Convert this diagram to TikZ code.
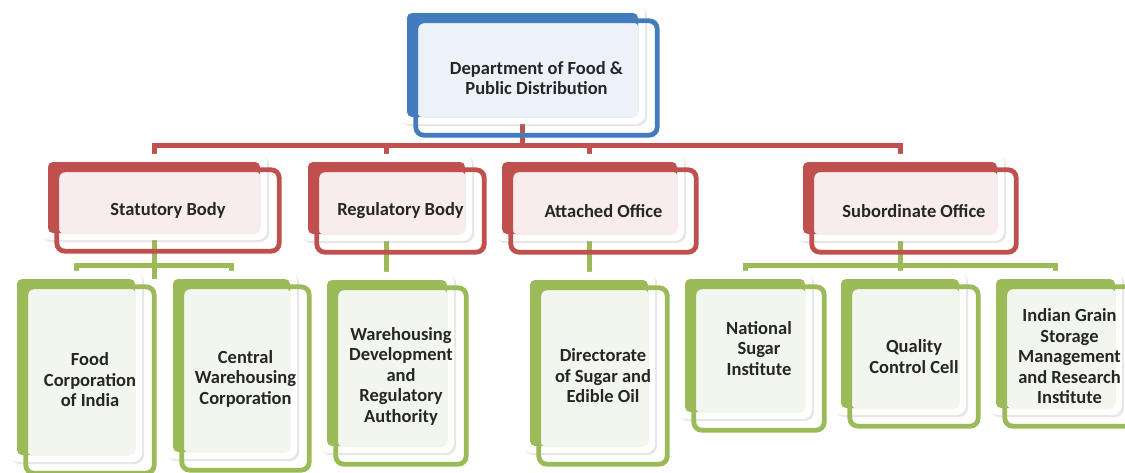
\documentclass[tikz,border=0pt]{standalone}
\usepackage{fontspec}
\setmainfont{Carlito}
\usetikzlibrary{calc,fit,shadows}

\definecolor{deptblue}{HTML}{437BBF}
\definecolor{deptbluelt}{HTML}{EDF2F8}
\definecolor{bodyred}{HTML}{C0504D}
\definecolor{bodyredlt}{HTML}{F8ECEC}
\definecolor{unitgreen}{HTML}{9BBB59}
\definecolor{unitgreenlt}{HTML}{F3F6EE}
\definecolor{inktext}{HTML}{262626}

\pgfdeclarelayer{links}
\pgfdeclarelayer{panels}
\pgfsetlayers{links,panels,main}

\begin{document}
\begin{tikzpicture}[
        x=1pt, y=-1pt,
        panel/.style={fill=white, rounded corners=10pt,
            drop shadow={shadow xshift=2pt, shadow yshift=-2pt, opacity=0.2}},
        backbox/.style={fill=#1, rounded corners=5pt, inner sep=0pt},
        frontbox/.style={draw=#1, line width=4.8pt, rounded corners=8pt},
        unittext/.style={font=\bfseries\fontsize{18.5}{20.5}\selectfont, text=inktext, align=center, inner sep=0pt},
        link/.style={draw=#1, line width=5pt}
    ]
            \useasboundingbox (0, 0) rectangle (1125, 472);

            % name, colour, light colour, corner, corner, text shift, text
            \newcommand*{\unitbox}[7]{
                \node[backbox=#2, fit={#4 #5}] (#1) {};
                \begin{pgfonlayer}{panels}
                    \path[panel] ($(#1.north west)+(-8, -8)$) rectangle ($(#1.south east)+(7, 7)$);
                \end{pgfonlayer}
                \fill[#3, rounded corners=4pt] ($(#1.north west)+(11, 10)$) rectangle (#1.south east);
                \draw[frontbox=#2] ($(#1.north west)+(9, 8)$) rectangle ($(#1.south east)+(19, 18)$);
                \node[unittext] (#1 text) at ($(#1.center)+(14, 13)+#6$) {#7};
            }

            \unitbox{dfpd}{deptblue}{deptbluelt}{(407, 13)}{(638, 117)}{(0, 0)}{Department of Food \&\\Public Distribution}

            \unitbox{stat}{bodyred}{bodyredlt}{(48, 162)}{(260, 233)}{(0, 0)}{Statutory Body}
            \unitbox{reg}{bodyred}{bodyredlt}{(308, 162)}{(465, 234)}{(0, 0)}{Regulatory Body}
            \unitbox{att}{bodyred}{bodyredlt}{(502, 162)}{(677, 234)}{(0, 0)}{Attached Office}
            \unitbox{sub}{bodyred}{bodyredlt}{(803, 162)}{(997, 234)}{(0, 0)}{Subordinate Office}

            \unitbox{fci}{unitgreen}{unitgreenlt}{(17, 279)}{(135, 455)}{(0, 0)}{Food\\Corporation\\of India}
            \unitbox{cwc}{unitgreen}{unitgreenlt}{(173, 279)}{(290, 452)}{(0, 0)}{Central\\Warehousing\\Corporation}
            \unitbox{wdra}{unitgreen}{unitgreenlt}{(327, 280)}{(447, 446)}{(0, 0)}{Warehousing\\Development\\and\\Regulatory\\Authority}
            \unitbox{dseo}{unitgreen}{unitgreenlt}{(530, 280)}{(648, 446)}{(0, 0)}{Directorate\\of Sugar and\\Edible Oil}
            \unitbox{nsi}{unitgreen}{unitgreenlt}{(685, 279)}{(805, 412)}{(0, -10)}{National\\Sugar\\Institute}
            \unitbox{qcc}{unitgreen}{unitgreenlt}{(841, 279)}{(959, 408)}{(0, 0)}{Quality\\Control Cell}
            \unitbox{igsm}{unitgreen}{unitgreenlt}{(996, 279)}{(1115, 408)}{(0, 0)}{Indian Grain\\Storage\\Management\\and Research\\Institute}

            \begin{pgfonlayer}{links}
                \coordinate (bus top) at (0, 145);
                \coordinate (bus low) at (0, 265);

                \draw[link=bodyred] (dfpd.south) -- (dfpd.south |- bus top);
                \draw[link=bodyred] (stat.north) -- (stat.north |- bus top) -- (sub.north |- bus top) -- (sub.north);
                \foreach \n in {reg, att} {
                    \draw[link=bodyred] (\n.north) -- (\n.north |- bus top);
                }

                \draw[link=unitgreen] (fci.north) -- (fci.north |- bus low) -- (cwc.north |- bus low) -- (cwc.north);
                \draw[link=unitgreen] (nsi.north) -- (nsi.north |- bus low) -- (igsm.north |- bus low) -- (igsm.north);
                \foreach \n/\m in {stat/fci, reg/wdra, att/dseo, sub/qcc} {
                    \draw[link=unitgreen] (\n.south) -- (\n.south |- \m.north);
                }
            \end{pgfonlayer}
        \end{tikzpicture}
\end{document}
